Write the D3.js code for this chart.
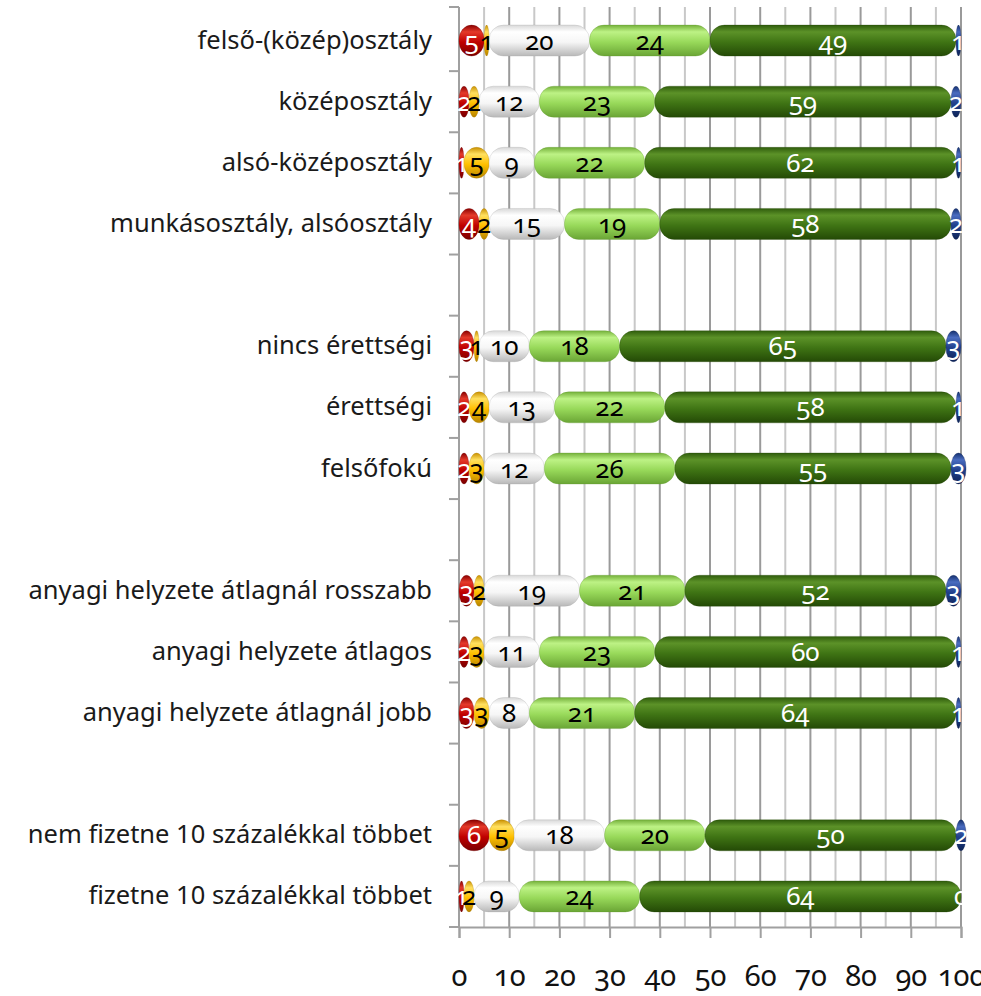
<!DOCTYPE html>
<html><head><meta charset="utf-8">
<script src="https://cdn.jsdelivr.net/npm/d3@7"></script>
<style>
html,body{margin:0;padding:0;background:#fff;overflow:hidden}
svg{display:block}
.num{font-family:"Noto Sans",sans-serif;font-variant-numeric:oldstyle-nums;font-feature-settings:"onum" 1}
</style></head>
<body>
<script>
// ---- data ----
const categories = [
  "felső-(közép)osztály","középosztály","alsó-középosztály","munkásosztály, alsóosztály",
  "",
  "nincs érettségi","érettségi","felsőfokú",
  "",
  "anyagi helyzete átlagnál rosszabb","anyagi helyzete átlagos","anyagi helyzete átlagnál jobb",
  "",
  "nem fizetne 10 százalékkal többet","fizetne 10 százalékkal többet"
];
const seriesRed       = [5,2,1,4,null,3,2,2,null,3,2,3,null,6,1];
const seriesYellow    = [1,2,5,2,null,1,4,3,null,2,3,3,null,5,2];
const seriesWhite     = [20,12,9,15,null,10,13,12,null,19,11,8,null,18,9];
const seriesLightGreen= [24,23,22,19,null,18,22,26,null,21,23,21,null,20,24];
const seriesDarkGreen = [49,59,62,58,null,65,58,55,null,52,60,64,null,50,64];
const seriesBlue      = [1,2,1,2,null,3,1,3,null,3,1,1,null,2,0];
const xTicks = [0,10,20,30,40,50,60,70,80,90,100];

const series = [
  {key:"red", values:seriesRed, stops:["#8a0000","#e43a2a","#c00000","#7a0000"], text:"#fff"},
  {key:"yellow", values:seriesYellow, stops:["#c99000","#ffe060","#ffc000","#b88400"], text:"#000"},
  {key:"white", values:seriesWhite, stops:["#d8d8d8","#ffffff","#f6f6f6","#b8b8b8"], text:"#000"},
  {key:"lgreen", values:seriesLightGreen, stops:["#74b03a","#bdf285","#98d95a","#6aa535"], text:"#000"},
  {key:"dgreen", values:seriesDarkGreen, stops:["#2f5c0c","#5c9228","#3f7414","#244a06"], text:"#fff"},
  {key:"blue", values:seriesBlue, stops:["#14306e","#4a6cc0","#22418c","#0e2458"], text:"#fff"}
];

const W = 981, H = 996;
const svg = d3.select("body").append("svg").attr("width", W).attr("height", H);
const defs = svg.append("defs");
series.forEach(s => {
  const g = defs.append("linearGradient").attr("id","g-"+s.key)
    .attr("x1",0).attr("y1",0).attr("x2",0).attr("y2",1);
  g.append("stop").attr("offset","0%").attr("stop-color",s.stops[0]);
  g.append("stop").attr("offset","22%").attr("stop-color",s.stops[1]);
  g.append("stop").attr("offset","55%").attr("stop-color",s.stops[2]);
  g.append("stop").attr("offset","100%").attr("stop-color",s.stops[3]);
});

const x = d3.scaleLinear().domain([0,100]).range([459, 961]);
const y = d3.scaleBand().domain(d3.range(categories.length)).range([10, 927]).paddingInner(0).paddingOuter(0);
const plotTop = 7, plotBottom = 927;

// gridlines every 5
const grid = svg.append("g");
d3.range(5, 101, 5).forEach(v => {
  grid.append("line").attr("x1", x(v)).attr("x2", x(v)).attr("y1", plotTop).attr("y2", plotBottom)
    .attr("stroke", v % 10 === 0 ? "#9a9a9a" : "#c8c8c8").attr("stroke-width", 2);
});

// x axis
const xAxis = svg.append("g").attr("transform", `translate(0,${plotBottom})`)
  .call(d3.axisBottom(x).tickValues(xTicks).tickSize(11).tickFormat(d => d));
xAxis.select(".domain").attr("stroke","#a0a0a0").attr("stroke-width",2);
xAxis.selectAll(".tick line").attr("stroke","#a0a0a0").attr("stroke-width",2);
xAxis.selectAll(".tick text").attr("class","num").attr("font-size",29).attr("fill","#111").attr("y", 38);

// y axis
const boundaries = d3.range(categories.length + 1).map(i => i === categories.length ? plotBottom : (i === 0 ? plotTop : y(i)));
const yAx = svg.append("g");
yAx.append("line").attr("x1", x(0)).attr("x2", x(0)).attr("y1", plotTop).attr("y2", plotBottom)
  .attr("stroke","#a0a0a0").attr("stroke-width",2);
boundaries.forEach(b => {
  yAx.append("line").attr("x1", x(0) - 10).attr("x2", x(0)).attr("y1", b).attr("y2", b)
    .attr("stroke","#a0a0a0").attr("stroke-width",2);
});
yAx.selectAll("text.cat").data(categories).join("text")
  .attr("class","cat")
  .attr("x", 432).attr("y", (d,i) => y(i) + y.bandwidth()/2 + 8)
  .attr("text-anchor","end").attr("font-family","'Noto Sans',sans-serif").attr("font-size",25.5)
  .attr("fill","#1a1a1a").text(d => d);

// bars
const barH = 31;
const rows = categories.map((c,i) => i).filter(i => seriesRed[i] !== null);
const segs = [];
rows.forEach(i => {
  let cum = 0;
  series.forEach(s => {
    const v = s.values[i];
    segs.push({row:i, s, v, x0:cum, x1:cum + v});
    cum += v;
  });
});
const barG = svg.append("g");
segs.filter(d => d.v > 0).forEach(d => {
  const w = x(d.x1) - x(d.x0);
  const cy = y(d.row) + y.bandwidth()/2;
  barG.append("rect")
    .attr("x", x(d.x0)).attr("y", cy - barH/2)
    .attr("width", w).attr("height", barH)
    .attr("rx", Math.min(barH/2 - 1, w/2)).attr("ry", barH/2 - 1)
    .attr("fill", `url(#g-${d.s.key})`)
    .attr("stroke", d3.color(d.s.stops[3]).darker(0.3)).attr("stroke-opacity",0.35).attr("stroke-width",0.8);
});
// labels
const labG = svg.append("g");
segs.forEach(d => {
  const cy = y(d.row) + y.bandwidth()/2;
  labG.append("text").attr("class","num")
    .attr("x", (x(d.x0) + x(d.x1))/2).attr("y", cy + 9)
    .attr("text-anchor","middle").attr("font-size",26)
    .attr("fill", d.s.text).text(d.v);
});
</script>
</body></html>
